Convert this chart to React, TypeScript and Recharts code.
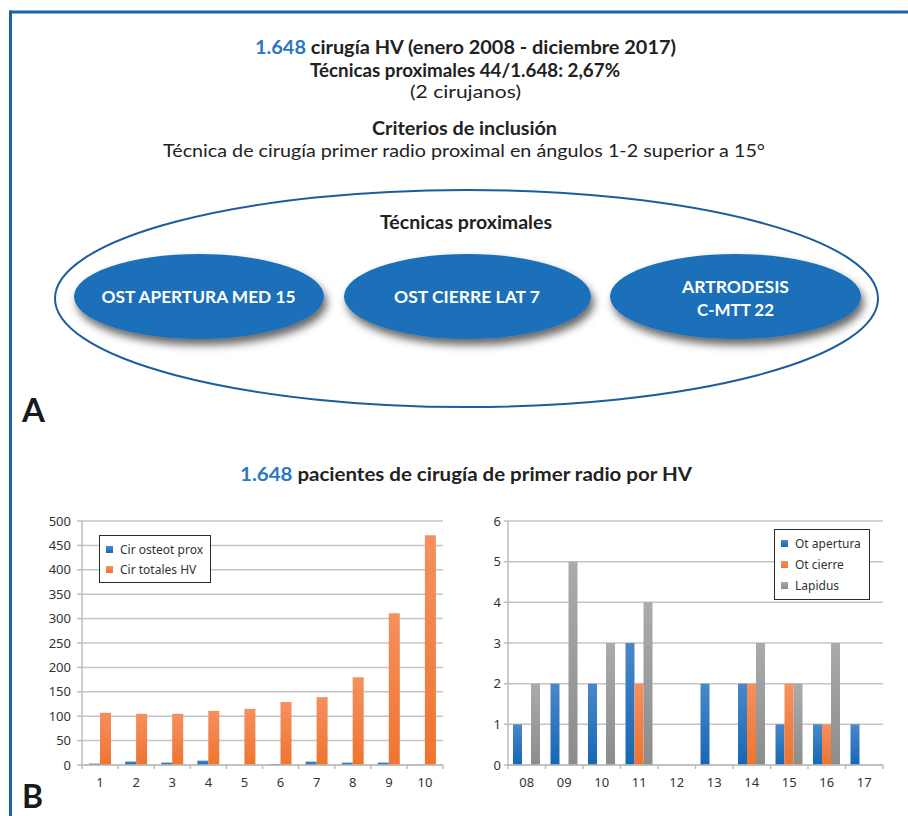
import React from 'react';
import { BarChart, Bar, XAxis, YAxis, CartesianGrid, Legend } from 'recharts';

// ---------- data ----------
const groupLabels = ['1', '2', '3', '4', '5', '6', '7', '8', '9', '10'];
const cirOsteotProx = [3, 7, 5, 9, 0, 2, 7, 5, 5, 1];
const cirTotalesHV = [107, 105, 105, 111, 115, 129, 139, 180, 311, 471];
const leftTicks = [0, 50, 100, 150, 200, 250, 300, 350, 400, 450, 500];

const yearLabels = ['08', '09', '10', '11', '12', '13', '14', '15', '16', '17'];
const otApertura = [1, 2, 2, 3, 0, 2, 2, 1, 1, 1];
const otCierre = [0, 0, 0, 2, 0, 0, 2, 2, 1, 0];
const lapidus = [2, 5, 3, 4, 0, 0, 3, 2, 3, 0];
const rightTicks = [0, 1, 2, 3, 4, 5, 6];

const leftData = groupLabels.map((g, i) => ({ name: g, prox: cirOsteotProx[i], total: cirTotalesHV[i] }));
const rightData = yearLabels.map((y, i) => ({ name: y, apertura: otApertura[i], cierre: otCierre[i], lapidus: lapidus[i] }));

// ---------- styles ----------
const CHART_FONT = "'Noto Sans', 'Open Sans', sans-serif";
const HEAD_FONT = "Lato, 'Noto Sans', sans-serif";
const AXIS_GRAY = '#bcbcbc';
const GRID_GRAY = '#c4c4c4';
const TEXT_DARK = '#222';
const BLUE_TXT = '#2a78c2';

const BoundaryTick = (props: any) => {
  const { x, y, payload, half, last, shift } = props;
  const axisY = y - shift;
  return (
    <g>
      <line x1={x - half} y1={axisY} x2={x - half} y2={axisY + 4} stroke={AXIS_GRAY} strokeWidth={1.5} />
      {payload.value === last ? (
        <line x1={x + half} y1={axisY} x2={x + half} y2={axisY + 4} stroke={AXIS_GRAY} strokeWidth={1.5} />
      ) : null}
      <text x={x} y={y} dy="0.71em" textAnchor="middle" fontSize={13} fontFamily={CHART_FONT} fill="#333">
        {payload.value}
      </text>
    </g>
  );
};

const LegendBox = ({ items, rowGap }: { items: { label: string; bg: string }[]; rowGap: number }) => (
  <div
    style={{
      border: '1.2px solid #2b2b2b',
      background: '#fff',
      padding: '3px 0 3px 6px',
      boxSizing: 'border-box',
      fontFamily: CHART_FONT,
      fontSize: 12,
      color: '#333',
      overflow: 'visible',
    }}
  >
    {items.map((it) => (
      <div key={it.label} style={{ display: 'flex', alignItems: 'center', height: rowGap }}>
        <span style={{ display: 'inline-block', flexShrink: 0, width: 7, height: 7, background: it.bg, marginRight: 7 }} />
        <span style={{ whiteSpace: 'nowrap' }}>{it.label}</span>
      </div>
    ))}
  </div>
);

const blueBg = 'linear-gradient(#4a88c9, #1667b4)';
const orangeBg = 'linear-gradient(#f5905f, #ef742f)';
const grayBg = 'linear-gradient(#aaabab, #8b8c8c)';

export default function App() {
  return (
    <div style={{ position: 'absolute', left: 0, top: 0, width: 908, height: 816, background: '#fff', overflow: 'hidden' }}>
      <svg width={908} height={816} style={{ position: 'absolute', left: 0, top: 0 }}>
        <defs>
          <linearGradient id="gBlue" x1="0" y1="0" x2="0" y2="1">
            <stop offset="0%" stopColor="#4a88c9" />
            <stop offset="100%" stopColor="#1667b4" />
          </linearGradient>
          <linearGradient id="gOrange" x1="0" y1="0" x2="0" y2="1">
            <stop offset="0%" stopColor="#f5905f" />
            <stop offset="100%" stopColor="#ef742f" />
          </linearGradient>
          <linearGradient id="gGray" x1="0" y1="0" x2="0" y2="1">
            <stop offset="0%" stopColor="#aaabab" />
            <stop offset="100%" stopColor="#8b8c8c" />
          </linearGradient>
          <filter id="shadow" x="-20%" y="-30%" width="140%" height="180%">
            <feDropShadow dx="3" dy="6" stdDeviation="4" floodColor="#000" floodOpacity="0.6" />
          </filter>
        </defs>
        {/* frame */}
        <line x1={9} y1={12} x2={908} y2={12} stroke="#1a64a6" strokeWidth={3} />
        <line x1={10.5} y1={10.5} x2={10.5} y2={816} stroke="#1a64a6" strokeWidth={3} />

        {/* header */}
        <g fontFamily={HEAD_FONT} textAnchor="middle" fill={TEXT_DARK}>
          <text x={465.5} y={54} fontSize={18.5} fontWeight={700} textLength={421} lengthAdjust="spacingAndGlyphs">
            <tspan fill={BLUE_TXT}>1.648</tspan> cirugía HV (enero 2008 - diciembre 2017)
          </text>
          <text x={465} y={77} fontSize={18.5} fontWeight={700} textLength={310} lengthAdjust="spacingAndGlyphs">
            Técnicas proximales 44/1.648: 2,67%
          </text>
          <text x={465.5} y={98} fontSize={17.5} textLength={111} lengthAdjust="spacingAndGlyphs">
            (2 cirujanos)
          </text>
          <text x={464.5} y={135} fontSize={18.5} fontWeight={700} textLength={185} lengthAdjust="spacingAndGlyphs">
            Criterios de inclusión
          </text>
          <text x={464} y={157} fontSize={17.5} textLength={602} lengthAdjust="spacingAndGlyphs">
            Técnica de cirugía primer radio proximal en ángulos 1-2 superior a 15°
          </text>
        </g>

        {/* diagram */}
        <ellipse cx={466.5} cy={298.5} rx={411.5} ry={108.5} fill="none" stroke="#1b5e9b" strokeWidth={2} />
        <text x={466} y={229} fontFamily={HEAD_FONT} fontSize={18} fontWeight={700} textAnchor="middle" fill={TEXT_DARK} textLength={172} lengthAdjust="spacingAndGlyphs">
          Técnicas proximales
        </text>
        <g filter="url(#shadow)" fill="#1b6fba">
          <ellipse cx={199} cy={296.5} rx={125} ry={42.5} />
          <ellipse cx={467.5} cy={296.5} rx={123.5} ry={42.5} />
          <ellipse cx={735.5} cy={296.5} rx={125.5} ry={42.5} />
        </g>
        <g fontFamily={HEAD_FONT} fontSize={17} fontWeight={700} textAnchor="middle" fill="#fff">
          <text x={198.5} y={303} textLength={194} lengthAdjust="spacingAndGlyphs">OST APERTURA MED 15</text>
          <text x={467} y={303} textLength={146} lengthAdjust="spacingAndGlyphs">OST CIERRE LAT 7</text>
          <text x={735.5} y={293} textLength={107} lengthAdjust="spacingAndGlyphs">ARTRODESIS</text>
          <text x={735.5} y={316} textLength={77} lengthAdjust="spacingAndGlyphs">C-MTT 22</text>
        </g>
        <text x={22} y={422} fontFamily={HEAD_FONT} fontSize={33} fontWeight={700} fill="#1a1a1a">A</text>

        {/* section B */}
        <text x={466} y={481} fontFamily={HEAD_FONT} fontSize={18.5} fontWeight={700} textAnchor="middle" fill={TEXT_DARK} textLength={452} lengthAdjust="spacingAndGlyphs">
          <tspan fill={BLUE_TXT}>1.648</tspan> pacientes de cirugía de primer radio por HV
        </text>
        <text x={22} y={808} fontFamily={HEAD_FONT} fontSize={32} fontWeight={700} fill="#1a1a1a">B</text>
      </svg>

      {/* left chart */}
      <div style={{ position: 'absolute', left: 0, top: 500 }}>
        <BarChart width={460} height={316} data={leftData} margin={{ top: 21, right: 17, bottom: 21, left: 0 }} barGap={0}>
          <CartesianGrid vertical={false} stroke={GRID_GRAY} strokeWidth={1.5} />
          <XAxis
            dataKey="name"
            height={30}
            tickSize={0}
            tickMargin={13}
            tickLine={false}
            axisLine={{ stroke: AXIS_GRAY, strokeWidth: 1.5 }}
            interval={0}
            tick={(p: any) => <BoundaryTick {...p} half={18.05} last="10" shift={13} />}
          />
          <YAxis
            width={82}
            domain={[0, 500]}
            ticks={leftTicks}
            interval={0}
            tickSize={5}
            tickMargin={6}
            tickLine={{ stroke: AXIS_GRAY, strokeWidth: 1.5 }}
            axisLine={{ stroke: AXIS_GRAY, strokeWidth: 1.5 }}
            tick={{ fontSize: 13, fontFamily: CHART_FONT, fill: '#333' }}
          />
          <Legend
            layout="horizontal"
            verticalAlign="middle"
            wrapperStyle={{ left: 99, top: 35, width: 112 }}
            content={() => (
              <LegendBox
                rowGap={20}
                items={[
                  { label: 'Cir osteot prox', bg: blueBg },
                  { label: 'Cir totales HV', bg: orangeBg },
                ]}
              />
            )}
          />
          <Bar dataKey="prox" name="Cir osteot prox" fill="url(#gBlue)" barSize={11} isAnimationActive={false} />
          <Bar dataKey="total" name="Cir totales HV" fill="url(#gOrange)" barSize={11} isAnimationActive={false} />
        </BarChart>
      </div>

      {/* right chart */}
      <div style={{ position: 'absolute', left: 460, top: 500 }}>
        <BarChart width={440} height={316} data={rightData} margin={{ top: 21, right: 17, bottom: 21, left: 0 }} barGap={0}>
          <CartesianGrid vertical={false} stroke={GRID_GRAY} strokeWidth={1.5} />
          <XAxis
            dataKey="name"
            height={30}
            tickSize={0}
            tickMargin={13}
            tickLine={false}
            axisLine={{ stroke: AXIS_GRAY, strokeWidth: 1.5 }}
            interval={0}
            tick={(p: any) => <BoundaryTick {...p} half={18.75} last="17" shift={13} />}
          />
          <YAxis
            width={48}
            domain={[0, 6]}
            ticks={rightTicks}
            interval={0}
            tickSize={4}
            tickMargin={3}
            tickLine={{ stroke: AXIS_GRAY, strokeWidth: 1.5 }}
            axisLine={{ stroke: AXIS_GRAY, strokeWidth: 1.5 }}
            tick={{ fontSize: 13, fontFamily: CHART_FONT, fill: '#333' }}
          />
          <Legend
            layout="horizontal"
            verticalAlign="middle"
            wrapperStyle={{ left: 314, top: 29, width: 96 }}
            content={() => (
              <LegendBox
                rowGap={21}
                items={[
                  { label: 'Ot apertura', bg: blueBg },
                  { label: 'Ot cierre', bg: orangeBg },
                  { label: 'Lapidus', bg: grayBg },
                ]}
              />
            )}
          />
          <Bar dataKey="apertura" name="Ot apertura" fill="url(#gBlue)" barSize={9} isAnimationActive={false} />
          <Bar dataKey="cierre" name="Ot cierre" fill="url(#gOrange)" barSize={9} isAnimationActive={false} />
          <Bar dataKey="lapidus" name="Lapidus" fill="url(#gGray)" barSize={9} isAnimationActive={false} />
        </BarChart>
      </div>
    </div>
  );
}
